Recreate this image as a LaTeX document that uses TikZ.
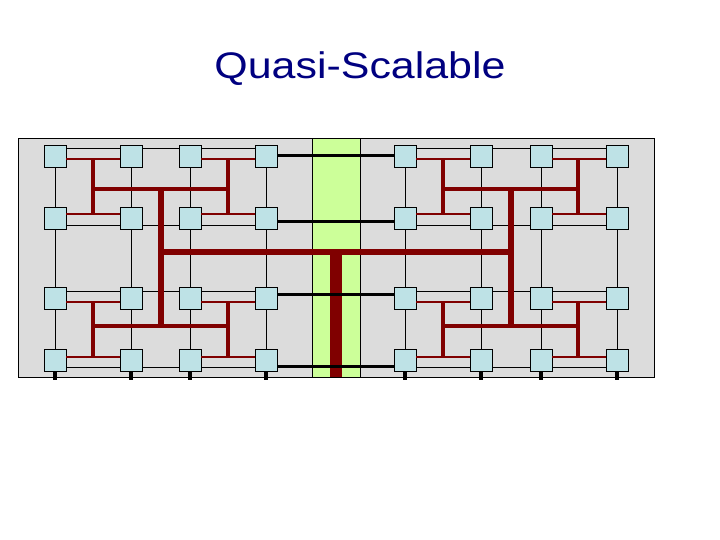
\documentclass[tikz,border=0pt]{standalone}
\usepackage{fontspec}
\setmainfont{Liberation Sans}

\definecolor{meshgrey}{RGB}{220,220,220}
\definecolor{cutgreen}{RGB}{204,255,153}
\definecolor{pebox}{RGB}{190,226,230}
\definecolor{treered}{RGB}{128,0,0}
\definecolor{titleblue}{RGB}{0,0,128}

\tikzset{
  mesh wire/.style={line width=0.8pt,black},
  cut wire/.style={line width=3pt,black},
  pin/.style={line width=4pt,black},
  tree wire/.style={line width=#1,treered},
  tree wire/.default=1.2pt,
  pe/.style={draw,fill=pebox,minimum size=22pt,inner sep=0pt,line width=0.8pt},
  slide title/.style={font=\fontsize{37}{44}\selectfont,text=titleblue}
}

\begin{document}
\begin{tikzpicture}[x=1pt,y=-1pt]
  \useasboundingbox (0,0) rectangle (720,540);
  \node[slide title,anchor=base] (title) at (360,79) {\scalebox{1.16}[1]{Quasi-Scalable}};

  % board and the cut through the middle
  \draw[fill=meshgrey,line width=0.8pt] (18,138) rectangle (654,377);
  \draw[fill=cutgreen,line width=0.8pt] (312,138) rectangle (360,377);

  % processors
  \foreach \y [count=\r] in {156,218,298,360}
    \foreach \x [count=\c] in {55,131,190,266,405,481,541,617}
      \node[pe] (n-\r-\c) at (\x,\y) {};

  % mesh
  \foreach \c in {1,...,8} {
    \foreach \r/\s in {1/2,2/3,3/4}
      \draw[mesh wire] (n-\r-\c) -- (n-\s-\c);
    \draw[pin] (n-4-\c.south) -- ++(0,9);
  }
  \foreach \r/\o in {1/8,2/-7,3/7,4/-7}
    \foreach \c/\d in {1/2,2/3,3/4,5/6,6/7,7/8}
      \draw[mesh wire] ([yshift=\o pt]n-\r-\c.east) -- ([yshift=\o pt]n-\r-\d.west);

  % fat tree
  \foreach \r/\o in {1/-3,2/4,3/-4,4/3}
    \foreach \c/\d in {1/2,3/4,5/6,7/8}
      \draw[tree wire] ([yshift=\o pt]n-\r-\c.east) -- ([yshift=\o pt]n-\r-\d.west);
  \foreach \x in {93,228,443,578} {
    \draw[tree wire=3.2pt] (\x,159) -- (\x,214);
    \draw[tree wire=3.2pt] (\x,302) -- (\x,356);
  }
  \draw[tree wire=4.3pt] (93,189) -- (228,189) (443,189) -- (578,189)
    (93,326) -- (228,326) (443,326) -- (578,326);
  \coordinate (left hub) at (161,252);
  \coordinate (right hub) at (511,252);
  \coordinate (root) at (336,377);
  \draw[tree wire=5.7pt] (161,189) -- (161,326) (511,189) -- (511,326);
  \draw[tree wire=6.5pt] (left hub) -- (right hub);
  \draw[tree wire=12pt] (336,252) -- (root);

  % links across the cut
  \foreach \r/\o in {1/0,2/-4,3/4,4/-6}
    \draw[cut wire] ([yshift=\o pt]n-\r-4.east) -- ([yshift=\o pt]n-\r-5.west);
\end{tikzpicture}
\end{document}
